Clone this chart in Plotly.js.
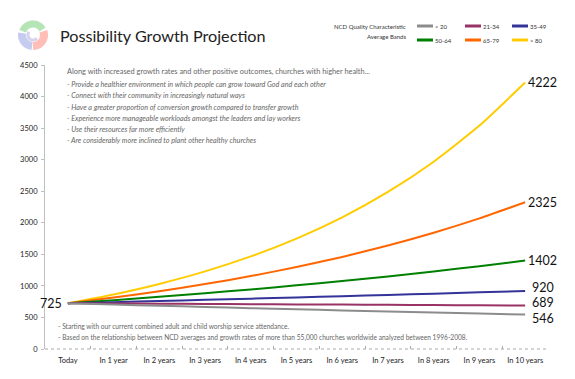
<!DOCTYPE html>
<html>
<head>
<meta charset="utf-8">
<script src="https://cdn.plot.ly/plotly-3.0.1.min.js"></script>
<style>html,body{margin:0;padding:0;background:#fff;}#chart{width:575px;height:379px;}</style>
</head>
<body>
<div id="chart"></div>
<script>
// ---- data ----
var categories = ["Today","In 1 year","In 2 years","In 3 years","In 4 years","In 5 years","In 6 years","In 7 years","In 8 years","In 9 years","In 10 years"];
var seriesNames = ["< 20","21-34","35-49","50-64","65-79","> 80"];
var under20  = [725, 704.7, 685.0, 665.9, 647.3, 629.2, 611.6, 594.5, 577.9, 561.7, 546];
var band2134 = [725, 721.3, 717.7, 714.0, 710.4, 706.8, 703.2, 699.6, 696.1, 692.5, 689];
var band3549 = [725, 742.5, 760.4, 778.7, 797.5, 816.7, 836.4, 856.5, 877.2, 898.3, 920];
var band5064 = [725, 774.4, 827.2, 883.6, 943.8, 1008.2, 1076.9, 1150.3, 1228.7, 1312.5, 1402];
var band6579 = [725, 814.6, 915.3, 1028.4, 1155.5, 1298.3, 1458.8, 1639.1, 1841.6, 2069.2, 2325];
var over80   = [725, 864.7, 1031.3, 1229.9, 1466.9, 1749.5, 2086.5, 2488.5, 2967.9, 3539.6, 4222];
var yTicks = [0,500,1000,1500,2000,2500,3000,3500,4000,4500];
var introText = "Along with increased growth rates and other positive outcomes, churches with higher health...";
var bullets = [
  "- Provide a healthier environment in which people can grow toward God and each other",
  "- Connect with their community in increasingly natural ways",
  "- Have a greater proportion of conversion growth compared to transfer growth",
  "- Experience more manageable workloads amongst the leaders and lay workers",
  "- Use their resources far more efficiently",
  "- Are considerably more inclined to plant other healthy churches"
];
var footnotes = [
  "- Starting with our current combined adult and child worship service attendance.",
  "- Based on the relationship between NCD averages and growth rates of more than 55,000 churches worldwide analyzed between 1996-2008."
];

// ---- styling ----
var allSeries = [under20, band2134, band3549, band5064, band6579, over80];
var colors = ["#8c8c8c","#993366","#333399","#008000","#ff6600","#ffcc00"];
var labelShift = [-3.5, 3, 3.5, 0, 0, 0];
var labelXShift = [4, 4, 4, 0, 0, 0];
var FONT = "Lato, 'Open Sans', sans-serif";

var W = 575, H = 379, L = 45, R = 27, T = 65, B = 30;
var PW = W - L - R, PH = H - T - B;
function px(x){ return (x - L) / PW; }
function py(y){ return (H - B - y) / PH; }

var traces = [];
var annotations = [];
var shapes = [];
var last = categories.length - 1;
[5,4,3,2,1,0].forEach(function(i){
  var s = allSeries[i];
  traces.push({
    type: "scatter", mode: "lines", x: categories, y: s, name: seriesNames[i],
    line: {color: colors[i], width: 2, shape: "spline", smoothing: 0.6},
    cliponaxis: false, showlegend: false, hoverinfo: "x+y+name"
  });
  annotations.push({xref:"x", yref:"y", x: categories[last], y: s[last], xanchor:"left", yanchor:"middle",
    xshift: 1 + labelXShift[i], yshift: labelShift[i], text: String(s[last]), showarrow:false,
    font:{family:FONT, size:12.5, color:"#111"}});
});
annotations.push({xref:"x", yref:"y", x: categories[0], y: over80[0], xanchor:"right", yanchor:"middle",
  xshift: -4, text: String(over80[0]), showarrow:false, font:{family:FONT, size:12.5, color:"#111"}});

// intro text
annotations.push({xref:"paper", yref:"paper", x:px(65), y:py(72), xanchor:"left", yanchor:"middle",
  text: introText, showarrow:false, font:{family:FONT, size:7.4, color:"#666"}});
var bulletY = [84, 95, 107, 118, 129, 140];
bullets.forEach(function(b, i){
  annotations.push({xref:"paper", yref:"paper", x:px(65), y:py(bulletY[i]), xanchor:"left", yanchor:"middle",
    text: "<i>" + b + "</i>", showarrow:false, font:{family:FONT, size:7.2, color:"#666"}});
});
var footY = [326, 337];
footnotes.forEach(function(f, i){
  annotations.push({xref:"paper", yref:"paper", x:px(56), y:py(footY[i]), xanchor:"left", yanchor:"middle",
    text: f, showarrow:false, font:{family:FONT, size:6.6, color:"#666"}});
});
// legend block (manual)
annotations.push({xref:"paper", yref:"paper", x:px(408), y:py(26), xanchor:"right", yanchor:"middle",
  text:"NCD Quality Characteristic", showarrow:false, font:{family:FONT, size:6, color:"#333"}});
annotations.push({xref:"paper", yref:"paper", x:px(408), y:py(36), xanchor:"right", yanchor:"middle",
  text:"Average Bands", showarrow:false, font:{family:FONT, size:6, color:"#333"}});
var legX = [417, 465, 512];
var legY = [26, 40];
for (var i = 0; i < 6; i++){
  var cx = legX[i % 3], cy = legY[Math.floor(i / 3)];
  shapes.push({type:"line", xref:"paper", yref:"paper", x0:px(cx), x1:px(cx+16), y0:py(cy), y1:py(cy),
    line:{color:colors[i], width:3}});
  annotations.push({xref:"paper", yref:"paper", x:px(cx+16), y:py(cy+1), xanchor:"left", yanchor:"middle",
    text: seriesNames[i], showarrow:false, font:{family:FONT, size:6, color:"#333"}});
}
// dotted x axis line
shapes.push({type:"line", xref:"paper", yref:"paper", x0:0, x1:1, y0:0, y1:0,
  line:{color:"#aaaaaa", width:1, dash:"dot"}});

// logo (decorative swirl)
function arcPath(r, a1, a2){
  var p = "", n = 24;
  for (var k = 0; k <= n; k++){
    var a = (a1 + (a2 - a1) * k / n) * Math.PI / 180;
    p += (k === 0 ? "M" : "L") + (r * Math.cos(a)).toFixed(2) + "," + (r * Math.sin(a)).toFixed(2);
  }
  return p;
}
var logoParts = [
  {a1: 30, a2: 160, c: "#5cc45c", r: 11, w: 7},
  {a1: -90, a2: 20, c: "#ff7060", r: 11, w: 8},
  {a1: 170, a2: 265, c: "#8090e0", r: 11, w: 8}
];
logoParts.forEach(function(lp){
  shapes.push({type:"path", xref:"paper", yref:"paper", xsizemode:"pixel", ysizemode:"pixel",
    xanchor: px(33), yanchor: py(35), path: arcPath(lp.r, lp.a1, lp.a2),
    line:{color: lp.c, width: lp.w}, opacity: 0.45});
});
shapes.push({type:"path", xref:"paper", yref:"paper", xsizemode:"pixel", ysizemode:"pixel",
  xanchor: px(33), yanchor: py(35), path: arcPath(5, 140, 320),
  line:{color: "#8a7fd0", width: 3}, opacity: 0.35});

var layout = {
  width: W, height: H,
  margin: {l: L, r: R, t: T, b: B, pad: 0},
  paper_bgcolor: "#ffffff", plot_bgcolor: "#ffffff",
  showlegend: false,
  title: {text: "Possibility Growth Projection", x: 60 / W, xanchor: "left", xref: "container",
    y: 1 - 36 / H, yanchor: "middle", yref: "container",
    font: {family: FONT, size: 16.2, color: "#222"}},
  xaxis: {type: "category", range: [-0.5, 10.5], showgrid: false, zeroline: false, showline: false,
    ticks: "inside", ticklen: 3, tickcolor: "#aaaaaa", tickson: "boundaries", tickangle: 0,
    tickfont: {family: FONT, size: 7.5, color: "#222"}, ticklabelstandoff: 5, fixedrange: true},
  yaxis: {range: [0, 4500], tickvals: yTicks, showgrid: false, zeroline: false,
    showline: true, linecolor: "#bfbfbf", linewidth: 1,
    ticks: "outside", ticklen: 3, tickcolor: "#bfbfbf",
    tickfont: {family: FONT, size: 7.5, color: "#222"}, ticklabelstandoff: 2, fixedrange: true},
  annotations: annotations,
  shapes: shapes
};

Plotly.newPlot("chart", traces, layout, {displayModeBar: false, staticPlot: true});
</script>
</body>
</html>
